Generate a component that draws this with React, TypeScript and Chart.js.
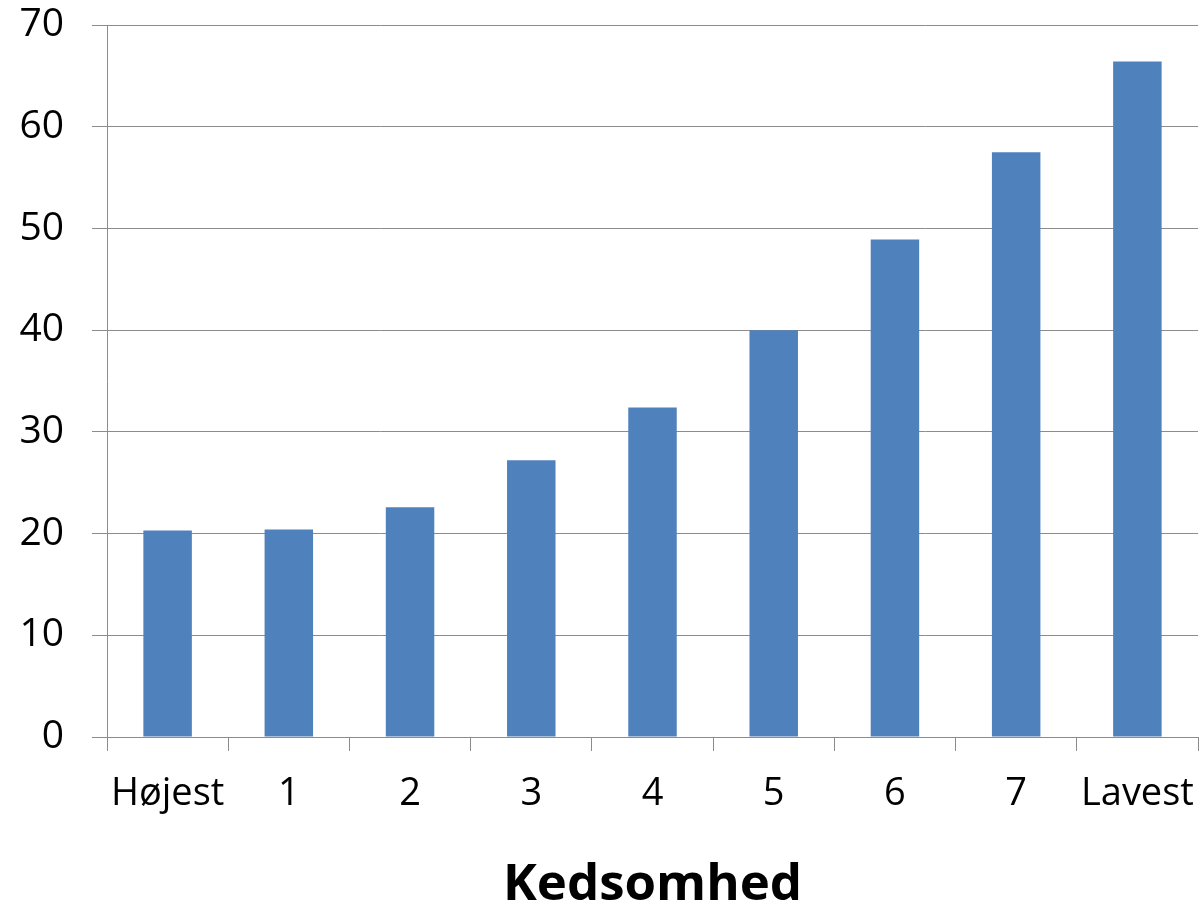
import React, { useEffect, useRef } from "react";
import { Chart, registerables } from "chart.js";

Chart.register(...registerables);

const categories = ["Højest", "1", "2", "3", "4", "5", "6", "7", "Lavest"];
const values = [20.3, 20.4, 22.6, 27.2, 32.4, 40.0, 48.9, 57.5, 66.4];
const yTicks = [0, 10, 20, 30, 40, 50, 60, 70];
const axisTitle = "Kedsomhed";

const FONT = "'Open Sans', 'DejaVu Sans', sans-serif";
const GRID = "#8c8c8c";

export default function App() {
  const ref = useRef<HTMLCanvasElement | null>(null);
  useEffect(() => {
    if (!ref.current) return;
    const chart = new Chart(ref.current, {
      type: "bar",
      data: {
        labels: categories,
        datasets: [
          {
            data: values,
            backgroundColor: "#4f81bd",
            borderWidth: 0,
            barPercentage: 0.4,
            categoryPercentage: 1.0,
          },
        ],
      },
      options: {
        animation: false,
        responsive: false,
        maintainAspectRatio: false,
        layout: { padding: { top: 25, right: 6, left: 0, bottom: 0 } },
        plugins: { legend: { display: false }, tooltip: { enabled: false } },
        scales: {
          x: {
            grid: {
              display: true,
              drawOnChartArea: false,
              drawTicks: true,
              tickLength: 14,
              color: GRID,
              offset: true,
            },
            border: { display: true, color: GRID, width: 1 },
            ticks: {
              color: "#000",
              font: { family: FONT, size: 38 },
              padding: 20,
              maxRotation: 0,
              autoSkip: false,
            },
            title: {
              display: true,
              text: axisTitle,
              color: "#000",
              font: { family: FONT, size: 51, weight: "bold" },
              padding: { top: 0, bottom: -14 },
            },
            afterFit: (scale: any) => {
              scale.height = 165;
              scale.paddingLeft = 0;
              scale.paddingRight = 0;
            },
          },
          y: {
            min: 0,
            max: 70,
            afterBuildTicks: (scale: any) => {
              scale.ticks = yTicks.map((v) => ({ value: v }));
            },
            grid: {
              color: GRID,
              tickLength: 15,
              drawTicks: true,
            },
            border: { display: true, color: GRID, width: 1 },
            ticks: {
              color: "#000",
              font: { family: FONT, size: 39 },
              padding: 28,
            },
            afterFit: (scale: any) => {
              scale.width = 107;
              scale.paddingTop = 0;
              scale.paddingBottom = 0;
            },
          },
        },
      },
    });
    return () => chart.destroy();
  }, []);
  return (
    <div style={{ position: "fixed", left: 0, top: 0, width: 1204, height: 902, background: "#fff" }}>
      <canvas ref={ref} width={1204} height={902} style={{ display: "block" }} />
    </div>
  );
}
